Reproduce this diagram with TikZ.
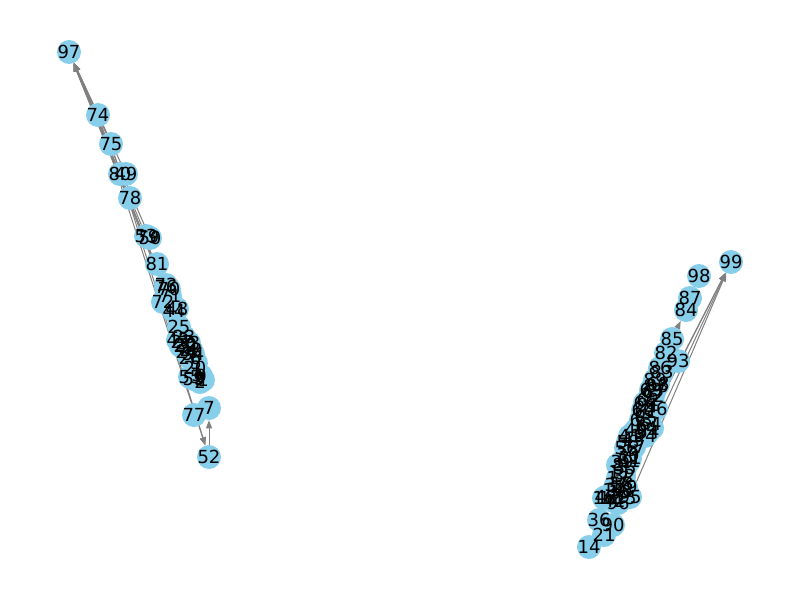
\documentclass[tikz,border=0pt]{standalone}
\usepackage{fontspec}
\setmainfont{DejaVu Sans}
\usetikzlibrary{arrows.meta}
\pgfdeclarelayer{bg}
\pgfsetlayers{bg,main}
\definecolor{sky}{HTML}{87CEEB}
\tikzset{
  vtx/.style={circle,fill=sky,draw=none,minimum size=18pt,inner sep=0pt},
  lab/.style={font=\fontsize{13.5pt}{14pt}\selectfont,inner sep=0pt,text=black},
  edg/.style={draw=gray,line width=0.75pt,-{Triangle[length=6pt,width=4.5pt]}}
}
\begin{document}
\begin{tikzpicture}[x=0.75pt,y=-0.75pt]
\begin{pgfonlayer}{bg}
\useasboundingbox[fill=white] (0,0) rectangle (800,600);
\end{pgfonlayer}
% ---------- left cluster ----------
\foreach \n/\x/\y in {97/69/52,74/98/115,75/111/144,80/120/174,49/126/174,78/130/198,
  53/146/236,79/148/237,50/150/238,81/157/264,73/166/285,76/166/287,70/169/289,71/170/296,72/163/302,
  44/174/311,48/177/309,25/179/327,43/178/340,27/182/342,23/184/337,29/185/346,22/186/345,
  33/189/343,57/181/346,24/187/352,28/191/350,34/193/354,26/190/358,5/196/363,20/195/368,
  55/190/377,59/194/379,3/197/375,0/201/376,9/199/378,1/203/380,2/200/382,
  7/209/408,77/194/415,52/209/457}
  {\node[vtx] (n\n) at (\x,\y) {};}
% ---------- right cluster ----------
\foreach \n/\x/\y in {99/731/262,98/699/276,87/690/298,84/686/310,85/672/339,82/666/353,
  93/678/361,86/660/368,83/662/372,89/655/380,68/658/384,88/657/386,69/651/390,67/654/392,92/653/396,
  62/648/400,66/645/403,91/648/405,60/643/410,61/646/412,46/656/409,63/641/420,65/646/418,
  64/650/424,6/641/427,4/652/428,40/636/430,54/648/432,41/630/436,45/633/440,94/645/436,58/628/442,
  57/634/447,56/626/448,30/628/455,31/630/458,51/629/461,39/622/462,8/618/465,35/625/468,
  11/620/472,32/624/476,17/618/478,18/622/484,37/616/485,19/626/487,38/622/490,10/614/490,
  13/620/492,47/606/497,12/610/498,42/614/501,96/618/503,15/625/498,95/630/497,16/604/498,
  36/599/520,90/613/525,21/604/535,14/589/547}
  {\node[vtx] (n\n) at (\x,\y) {};}
% ---------- edges ----------
\begin{pgfonlayer}{bg}
\foreach \a/\b in {74/97,75/97,80/97,49/97,78/97,53/97,50/97,25/97,5/97,44/97,
  74/52,75/52,52/7,
  95/99,19/99,35/99,46/99,85/84}
  {\draw[edg] (n\a) -- (n\b);}
\end{pgfonlayer}
% ---------- labels ----------
\foreach \n in {97,74,75,80,49,78,53,79,50,81,73,76,70,71,72,44,48,25,43,27,23,29,22,33,57,24,28,34,26,5,20,55,59,3,0,9,1,2,7,77,52,
  99,98,87,84,85,82,93,86,83,89,68,88,69,67,92,62,66,91,60,61,46,63,65,64,6,4,40,54,41,45,94,58,
  56,30,31,51,39,8,35,11,32,17,18,37,19,38,10,13,47,12,42,96,15,95,16,36,90,21,14}
  {\node[lab] (l\n) at (n\n) {\n};}
\end{tikzpicture}
\end{document}
